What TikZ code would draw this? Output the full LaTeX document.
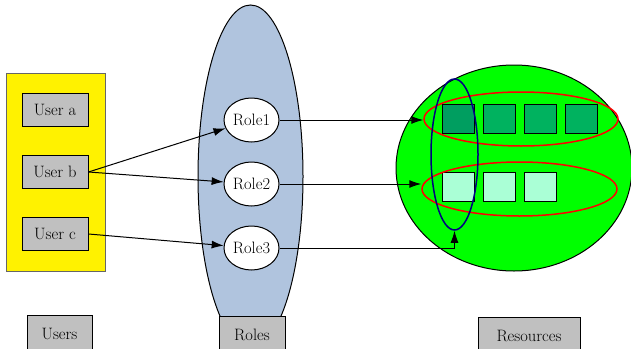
\documentclass[tikz,border=0pt]{standalone}
\usepackage{tikz}
\usetikzlibrary{arrows.meta,shapes.geometric,positioning}
\definecolor{rolefill}{HTML}{B0C4DE}
\definecolor{boxgrey}{HTML}{C0C0C0}
\definecolor{resgreen}{HTML}{00FF00}
\definecolor{sqdarkA}{HTML}{009E60}
\definecolor{sqdark}{HTML}{00B25F}
\definecolor{sqlight}{HTML}{AAFFD6}
\definecolor{navyline}{HTML}{000080}
\tikzstyle{caption} = [draw, fill=boxgrey, rectangle, inner sep=0pt,
minimum height=38pt]
\tikzstyle{user} = [draw, fill=boxgrey, rectangle, inner sep=0pt,
minimum height=33pt, minimum width=66pt]
\tikzstyle{role} = [draw, fill=white, ellipse, inner sep=0pt,
minimum height=44pt, minimum width=55pt]
\tikzstyle{item} = [draw, rectangle, inner sep=0pt,
minimum height=29pt, minimum width=32pt]
\tikzstyle{group} = [ellipse, inner sep=0pt, line width=1.5pt]

\begin{document}
\begin{tikzpicture}[x=1pt, y=-1pt, auto, node distance=62pt, line width=1pt,
  >={Latex[length=12pt,width=8pt]}, font=\fontsize{16.5}{19}\selectfont]
\useasboundingbox (0,0) rectangle (631,348);

% users
\node [draw=black!60, fill=yellow, minimum width=99pt, minimum height=198pt] (usersbg) at (55.5,172) {};
\node [user] (ua) at (55,110) {User a};
\node [user, below of=ua] (ub) {User b};
\node [user, below of=ub] (uc) {User c};

% roles
\node [draw, fill=rolefill, ellipse, inner sep=0pt, minimum width=105pt, minimum height=343pt] (rolesbg) at (250.5,176.5) {};
\node [role] (r1) at (251.5,120) {Role1};
\node [role, below of=r1, node distance=64pt] (r2) {Role2};
\node [role, below of=r2, node distance=64pt] (r3) {Role3};

% resources
\node [draw, fill=resgreen, ellipse, inner sep=0pt, minimum width=236pt, minimum height=206pt] (resbg) at (514,168) {};
\node [item, fill=sqdarkA] (a1) at (458,118.5) {};
\node [item, fill=sqdark, right of=a1, node distance=41pt] (a2) {};
\node [item, fill=sqdark, right of=a2, node distance=41pt] (a3) {};
\node [item, fill=sqdark, right of=a3, node distance=41pt] (a4) {};
\node [item, fill=sqlight] (b1) at (458,186.5) {};
\node [item, fill=sqlight, right of=b1, node distance=41pt] (b2) {};
\node [item, fill=sqlight, right of=b2, node distance=41pt] (b3) {};
\node [group, draw=red, minimum width=194pt, minimum height=54pt] (rowA) at (521,119) {};
\node [group, draw=red, minimum width=195pt, minimum height=54pt] (rowB) at (519.5,189) {};
\node [group, draw=navyline, minimum width=47pt, minimum height=151pt] (colA) at (454.5,154.5) {};

% captions
\node [caption, minimum width=65pt] (userslbl) at (59.5,334) {Users};
\node [caption, minimum width=66pt] (roleslbl) at (252,335) {Roles};
\node [caption, minimum width=102pt] (reslbl) at (529,336) {Resources};

\draw [->] (ub.east) -- (r1);
\draw [->] (ub.east) -- (r2);
\draw [->] (uc.east) -- (r3);

\draw [->] (r1.east) -- (r1.east -| rowA.west);
\draw [->] (r2.east) -- (r2.east -| rowB.west);
\draw [->] (r3.east) -| (colA.south);
\end{tikzpicture}
\end{document}
